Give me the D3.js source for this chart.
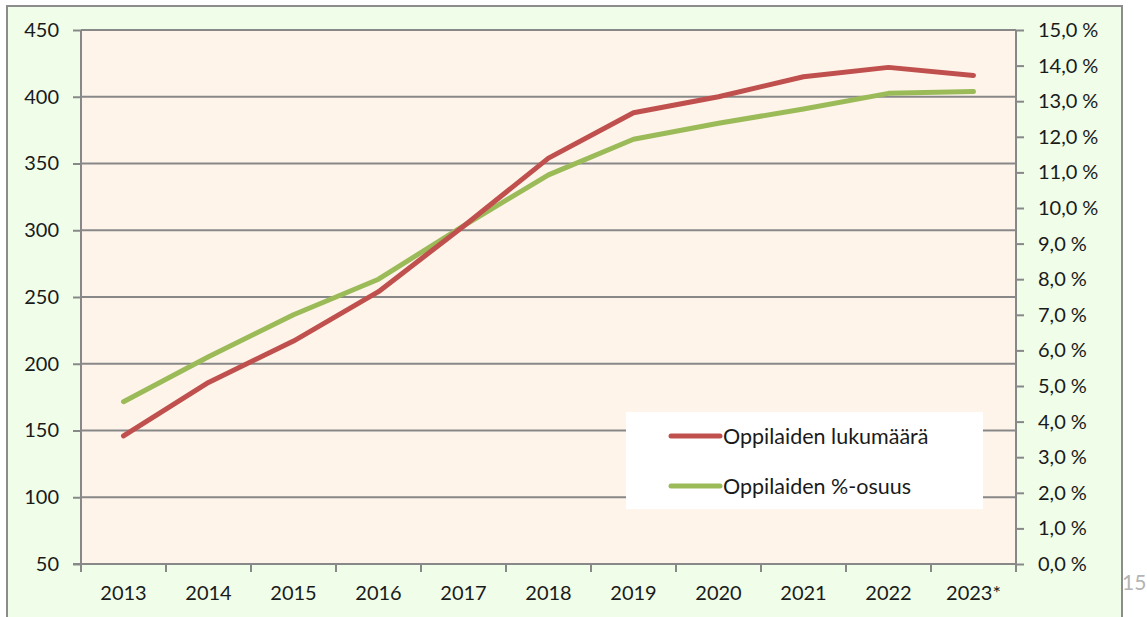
<!DOCTYPE html>
<html>
<head>
<meta charset="utf-8">
<script src="https://cdn.jsdelivr.net/npm/d3@7/dist/d3.min.js"></script>
<style>
  html, body { margin: 0; padding: 0; background: #ffffff; }
  svg { display: block; }
  text { font-family: Lato, "Open Sans", sans-serif; fill: #1a1a1a; }
</style>
</head>
<body>
<svg id="chart" width="1147" height="617"></svg>
<script>
const years = ["2013","2014","2015","2016","2017","2018","2019","2020","2021","2022","2023*"];
const studentCount = [146, 186, 217, 254, 303, 354, 388, 400, 415, 422, 416];
const studentShare = [4.56, 5.82, 7.0, 8.0, 9.5, 10.93, 11.93, 12.38, 12.78, 13.22, 13.27];
const leftTicks = [50, 100, 150, 200, 250, 300, 350, 400, 450];
const rightTicks = [0,1,2,3,4,5,6,7,8,9,10,11,12,13,14,15];
const seriesNames = ["Oppilaiden lukumäärä", "Oppilaiden %-osuus"];
const seriesColors = ["#c0504d", "#9bbb59"];
const pageNumber = "15";

const svg = d3.select("#chart");
const plot = { left: 81, right: 1016, top: 30, bottom: 564 };

// outer chart area
svg.append("rect").attr("x", 7).attr("y", 6).attr("width", 1115).attr("height", 640)
  .attr("fill", "#effde9").attr("stroke", "#8c8c8c").attr("stroke-width", 2);

// page number
svg.append("text").attr("x", 1122).attr("y", 590).attr("font-size", 21)
  .style("fill", "#b4b4b4").text(pageNumber);

svg.append("line").attr("x1", 1122).attr("x2", 1122).attr("y1", 6).attr("y2", 617)
  .attr("stroke", "#8c8c8c").attr("stroke-width", 2);

// plot area
svg.append("rect").attr("x", plot.left).attr("y", plot.top)
  .attr("width", plot.right - plot.left).attr("height", plot.bottom - plot.top)
  .attr("fill", "#fef4ea");

const x = d3.scaleBand().domain(years).range([plot.left, plot.right]).padding(0);
const yL = d3.scaleLinear().domain([50, 450]).range([plot.bottom, plot.top]);
const yR = d3.scaleLinear().domain([0, 15]).range([plot.bottom, plot.top]);

// gridlines
svg.append("g").selectAll("line").data(leftTicks.filter(d => d > 50)).join("line")
  .attr("x1", plot.left).attr("x2", plot.right)
  .attr("y1", d => yL(d)).attr("y2", d => yL(d))
  .attr("stroke", "#888888").attr("stroke-width", 2);

// left axis
const gL = svg.append("g").attr("transform", `translate(${plot.left},0)`)
  .call(d3.axisLeft(yL).tickValues(leftTicks).tickSize(8).tickPadding(14).tickFormat(d3.format("d")));
gL.select(".domain").attr("stroke", "#888888").attr("stroke-width", 2).attr("d", `M0,${plot.top}V${plot.bottom}`);
gL.selectAll(".tick line").attr("stroke", "#888888").attr("stroke-width", 2);
gL.selectAll(".tick text").attr("font-size", 20).style("font-family", "Lato, sans-serif").style("fill", "#1a1a1a");

// right axis
const fmtPct = d => d.toFixed(1).replace(".", ",") + "\u2009\u2009%";
const gR = svg.append("g").attr("transform", `translate(${plot.right},0)`)
  .call(d3.axisRight(yR).tickValues(rightTicks).tickSize(8).tickPadding(14).tickFormat(fmtPct));
gR.select(".domain").attr("stroke", "#888888").attr("stroke-width", 2).attr("d", `M0,${plot.top}V${plot.bottom}`);
gR.selectAll(".tick line").attr("stroke", "#888888").attr("stroke-width", 2);
gR.selectAll(".tick text").attr("font-size", 20).style("font-family", "Lato, sans-serif").style("fill", "#1a1a1a");

// bottom axis
const gB = svg.append("g").attr("transform", `translate(0,${plot.bottom})`)
  .call(d3.axisBottom(x).tickSize(0).tickPadding(22));
gB.select(".domain").attr("stroke", "#888888").attr("stroke-width", 2).attr("d", `M${plot.left - 8},0H${plot.right}`);
gB.selectAll(".tick text").attr("font-size", 20).style("font-family", "Lato, sans-serif").style("fill", "#1a1a1a");
const bounds = years.map(d => x(d)).concat([x(years[years.length-1]) + x.bandwidth()]);
svg.append("g").selectAll("line").data(bounds).join("line")
  .attr("x1", d => d).attr("x2", d => d)
  .attr("y1", plot.bottom).attr("y2", plot.bottom + 8)
  .attr("stroke", "#888888").attr("stroke-width", 2);

// lines
const cx = d => x(d) + x.bandwidth() / 2;
const lineL = d3.line().x((d, i) => cx(years[i])).y(d => yL(d));
const lineR = d3.line().x((d, i) => cx(years[i])).y(d => yR(d));
svg.append("path").datum(studentShare).attr("d", lineR)
  .attr("fill", "none").attr("stroke", seriesColors[1]).attr("stroke-width", 5)
  .attr("stroke-linecap", "round").attr("stroke-linejoin", "round");
svg.append("path").datum(studentCount).attr("d", lineL)
  .attr("fill", "none").attr("stroke", seriesColors[0]).attr("stroke-width", 5)
  .attr("stroke-linecap", "round").attr("stroke-linejoin", "round");

// legend
const lg = svg.append("g");
lg.append("rect").attr("x", 626).attr("y", 412).attr("width", 357).attr("height", 97).attr("fill", "#ffffff");
const ly = [436, 486];
seriesNames.forEach((name, i) => {
  lg.append("line").attr("x1", 671).attr("x2", 720).attr("y1", ly[i]).attr("y2", ly[i])
    .attr("stroke", seriesColors[i]).attr("stroke-width", 5).attr("stroke-linecap", "round");
  lg.append("text").attr("x", 723).attr("y", ly[i]).attr("dy", "0.35em")
    .attr("font-size", 21.5).text(name);
});
</script>
</body>
</html>
